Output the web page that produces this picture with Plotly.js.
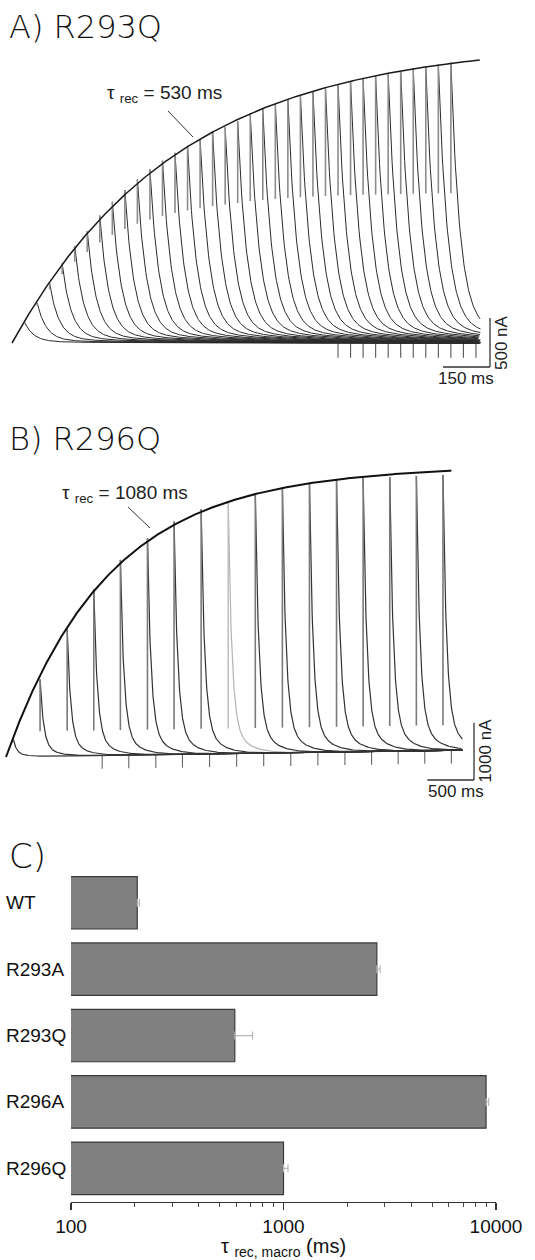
<!DOCTYPE html>
<html><head><meta charset="utf-8">
<script src="https://cdn.plot.ly/plotly-3.0.1.min.js"></script>
<style>html,body{margin:0;padding:0;background:#fff}#chart{width:535px;height:1260px}</style>
</head><body><div id="chart"></div>
<script>
// ---------------- DATA ----------------
// Panel A: R293Q recovery from inactivation (test-pulse times, peak currents)
const A_TEST_TIMES_MS = [40,80,120,160,200,240,280,320,360,400,440,480,520,560,600,640,680,720,760,800,840,880,920,960,1000,1040,1080,1120,1160,1200,1240,1280,1320,1360,1400];
const A_PEAKS_NA = [210,410,610,810,990,1140,1300,1440,1560,1670,1770,1860,1940,2010,2080,2150,2200,2260,2340,2390,2440,2490,2530,2570,2600,2640,2670,2700,2720,2750,2770,2800,2820,2840,2860];
const A_TAIL_TICKS_MS = [1040,1080,1120,1160,1200,1240,1280,1320,1360,1400,1440,1480];
const A_FIT_TAU_MS = 530, A_FIT_AMP_NA = 3070, A_SWEEP_END_MS = 1495;
const A_DECAY = {fastFrac:0.93, tauFast:29, tauSlow:255};
const A_TAU_LABEL = 'τ <sub>rec</sub> = 530 ms';
const A_SCALE = {ms:150, nA:500};

// Panel B: R296Q
const B_TEST_TIMES_MS = [75,365,655,940,1225,1515,1800,2090,2380,2670,2960,3250,3540,3825,4110,4395,4680];
const B_PEAKS_NA = [330,1345,2235,2900,3410,3785,4065,4275,4400,4535,4640,4705,4745,4775,4780,4795,4805];
const B_TAIL_TICKS_MS = [1030,1315,1605,1890,2180,2470,2760,3050,3340,3630,3915,4200,4485,4770];
const B_FIT_TAU_MS = 1080, B_FIT_AMP_NA = 4940, B_SWEEP_END_MS = 4890, B_DRIFT_NA = 120;
const B_DECAY = {fastFrac:0.85, tauFast:37, tauSlow:150};
const B_LIGHT_TRACE = 8;
const B_TAU_LABEL = 'τ <sub>rec</sub> = 1080 ms';
const B_SCALE = {ms:500, nA:1000};

// Panel C: macroscopic recovery time constants
const C_CONSTRUCTS = ['WT','R293A','R293Q','R296A','R296Q'];
const C_TAU_MS = [205,2750,590,8980,1000];
const C_SEM_MS = [5,100,125,260,50];
const C_TICKS = [100,1000,10000];
const C_MINOR = [200,300,400,500,600,700,800,900,2000,3000,4000,5000,6000,7000,8000,9000];

// ---------------- LAYOUT GEOMETRY (pixels) ----------------
const W=535,H=1260;
const px = x => x/W, py = y => 1 - y/H;
const GA = {t0px:12, msPerPx:3.19, basePx:343, naPerPx:10.2, top:50, bottom:385};
const GB = {t0px:6, msPerPx:10.71, basePx:757, naPerPx:17.45, top:455, bottom:810};
const FONT = '"Liberation Sans", Arial, sans-serif';
const TITLE_FONT = '"DejaVu Sans", "Liberation Sans", sans-serif';

function xr(g){return [(0-g.t0px)*g.msPerPx,(W-g.t0px)*g.msPerPx];}
function yr(g){return [(g.basePx-g.bottom)*g.naPerPx,(g.basePx-g.top)*g.naPerPx];}
function msAt(g,x){return (x-g.t0px)*g.msPerPx;}
function naAt(g,y){return (g.basePx-y)*g.naPerPx;}

function decaySeg(t0, peak, tEnd, d, base, X, Y){
  let dt=0;
  while(t0+dt<=tEnd){
    X.push(t0+dt);
    Y.push(base(t0+dt)+peak*(d.fastFrac*Math.exp(-dt/d.tauFast)+(1-d.fastFrac)*Math.exp(-dt/d.tauSlow)));
    dt += dt < 6*d.tauFast ? d.tauFast/14 : d.tauFast/3;
  }
  X.push(null); Y.push(null);
}

const traces=[];
// ----- Panel A -----
(function(){
  const base=()=>0;
  const dx=[],dy=[],sx=[],sy=[],kx=[],ky=[],ex=[],ey=[];
  A_TEST_TIMES_MS.forEach((t,i)=>{
    const p=A_PEAKS_NA[i];
    decaySeg(t,p,A_SWEEP_END_MS,A_DECAY,base,dx,dy);
    sx.push(t,t,null); sy.push(p, p-0.5*p*p/A_FIT_AMP_NA, null);
  });
  A_TAIL_TICKS_MS.forEach(t=>{kx.push(t,t,null); ky.push(0,-150,null);});
  for(let t=0;t<=1493;t+=4){ex.push(t); ey.push(A_FIT_AMP_NA*(1-Math.exp(-t/A_FIT_TAU_MS)));}
  traces.push({type:'scatter',mode:'lines',x:kx,y:ky,xaxis:'x',yaxis:'y',line:{color:'#555',width:1.1},hoverinfo:'skip'});
  traces.push({type:'scatter',mode:'lines',x:dx,y:dy,xaxis:'x',yaxis:'y',line:{color:'#2b2b2b',width:1},hoverinfo:'skip'});
  traces.push({type:'scatter',mode:'lines',x:sx,y:sy,xaxis:'x',yaxis:'y',line:{color:'#8c8c8c',width:1.6},hoverinfo:'skip'});
  traces.push({type:'scatter',mode:'lines',x:ex,y:ey,xaxis:'x',yaxis:'y',line:{color:'#1a1a1a',width:1.5},hoverinfo:'skip'});
})();
// ----- Panel B -----
(function(){
  const base=t=>B_DRIFT_NA*t/B_SWEEP_END_MS;
  const dx=[],dy=[],lx=[],ly=[],sx=[],sy=[],lsx=[],lsy=[],kx=[],ky=[],ex=[],ey=[];
  B_TEST_TIMES_MS.forEach((t,i)=>{
    const p=B_PEAKS_NA[i];
    const light = i===B_LIGHT_TRACE;
    decaySeg(t,p,B_SWEEP_END_MS,B_DECAY,base,light?lx:dx,light?ly:dy);
    const foot=Math.min(440,0.75*p);
    (light?lsx:sx).push(t,t,null); (light?lsy:sy).push(base(t)+p, base(t)+foot, null);
  });
  B_TAIL_TICKS_MS.forEach(t=>{kx.push(t,t,null); ky.push(base(t),base(t)-230,null);});
  for(let t=0;t<=4777;t+=10){ex.push(t); ey.push(base(t)+B_FIT_AMP_NA*(1-Math.exp(-t/B_FIT_TAU_MS)));}
  traces.push({type:'scatter',mode:'lines',x:kx,y:ky,xaxis:'x2',yaxis:'y2',line:{color:'#666',width:1.1},hoverinfo:'skip'});
  traces.push({type:'scatter',mode:'lines',x:lx,y:ly,xaxis:'x2',yaxis:'y2',line:{color:'#b4b4b4',width:1.2},hoverinfo:'skip'});
  traces.push({type:'scatter',mode:'lines',x:dx,y:dy,xaxis:'x2',yaxis:'y2',line:{color:'#333',width:1.2},hoverinfo:'skip'});
  traces.push({type:'scatter',mode:'lines',x:lsx,y:lsy,xaxis:'x2',yaxis:'y2',line:{color:'#c0c0c0',width:1.6},hoverinfo:'skip'});
  traces.push({type:'scatter',mode:'lines',x:sx,y:sy,xaxis:'x2',yaxis:'y2',line:{color:'#7a7a7a',width:1.6},hoverinfo:'skip'});
  traces.push({type:'scatter',mode:'lines',x:ex,y:ey,xaxis:'x2',yaxis:'y2',line:{color:'#111',width:2},hoverinfo:'skip'});
})();
// ----- Panel C -----
traces.push({type:'bar',orientation:'h',x:C_TAU_MS,y:C_CONSTRUCTS,xaxis:'x3',yaxis:'y3',
  marker:{color:'#808080',line:{color:'#3a3a3a',width:1.2}},
  error_x:{type:'data',array:C_SEM_MS,arrayminus:C_SEM_MS.map(()=>0),symmetric:false,color:'#b8b8b8',thickness:1.2,width:4},
  hoverinfo:'skip'});

const hidden={showline:false,showgrid:false,zeroline:false,showticklabels:false,ticks:'',fixedrange:true};
const sA={t0:msAt(GA,490), y0:naAt(GA,367)};
const sB={t0:msAt(GB,474), y0:naAt(GB,780)};

const shapes=[
  {type:'line',xref:'x',yref:'y',x0:sA.t0-A_SCALE.ms,x1:sA.t0,y0:sA.y0,y1:sA.y0,line:{color:'#333',width:1.3}},
  {type:'line',xref:'x',yref:'y',x0:sA.t0,x1:sA.t0,y0:sA.y0,y1:sA.y0+A_SCALE.nA,line:{color:'#333',width:1.3}},
  {type:'line',xref:'x2',yref:'y2',x0:sB.t0-B_SCALE.ms,x1:sB.t0,y0:sB.y0,y1:sB.y0,line:{color:'#333',width:1.3}},
  {type:'line',xref:'x2',yref:'y2',x0:sB.t0,x1:sB.t0,y0:sB.y0,y1:sB.y0+B_SCALE.nA,line:{color:'#333',width:1.3}},
  {type:'line',xref:'paper',yref:'paper',x0:px(168),y0:py(111),x1:px(193),y1:py(137),line:{color:'#333',width:1}},
  {type:'line',xref:'paper',yref:'paper',x0:px(128),y0:py(507),x1:px(150),y1:py(528),line:{color:'#333',width:1}}
];

const ann=[
  {text:'A) R293Q',xref:'paper',yref:'paper',x:px(7),y:py(27),xanchor:'left',yanchor:'middle',showarrow:false,font:{family:TITLE_FONT,size:32,color:'#111',weight:300}},
  {text:'B) R296Q',xref:'paper',yref:'paper',x:px(7),y:py(439),xanchor:'left',yanchor:'middle',showarrow:false,font:{family:TITLE_FONT,size:32,color:'#111',weight:300}},
  {text:'C)',xref:'paper',yref:'paper',x:px(7),y:py(856),xanchor:'left',yanchor:'middle',showarrow:false,font:{family:TITLE_FONT,size:34,color:'#111',weight:300}},
  {text:A_TAU_LABEL,xref:'paper',yref:'paper',x:px(105),y:py(94),xanchor:'left',yanchor:'middle',showarrow:false,font:{family:FONT,size:19,color:'#222'}},
  {text:B_TAU_LABEL,xref:'paper',yref:'paper',x:px(60),y:py(494),xanchor:'left',yanchor:'middle',showarrow:false,font:{family:FONT,size:19,color:'#222'}},
  {text:A_SCALE.ms+' ms',xref:'x',yref:'y',x:sA.t0-A_SCALE.ms/2,y:sA.y0,xanchor:'center',yanchor:'top',showarrow:false,font:{family:FONT,size:17,color:'#222'}},
  {text:A_SCALE.nA+' nA',xref:'x',yref:'y',x:sA.t0,y:sA.y0+A_SCALE.nA/2,xanchor:'left',yanchor:'middle',textangle:-90,showarrow:false,font:{family:FONT,size:17,color:'#222'}},
  {text:B_SCALE.ms+' ms',xref:'x2',yref:'y2',x:sB.t0-B_SCALE.ms/2+60,y:sB.y0,xanchor:'center',yanchor:'top',showarrow:false,font:{family:FONT,size:17,color:'#222'}},
  {text:B_SCALE.nA+' nA',xref:'x2',yref:'y2',x:sB.t0,y:sB.y0+B_SCALE.nA/2,xanchor:'left',yanchor:'middle',textangle:-90,showarrow:false,font:{family:FONT,size:17,color:'#222'}}
];
C_CONSTRUCTS.forEach(c=>ann.push({text:c,xref:'paper',yref:'y3',x:px(4),y:c,xanchor:'left',yanchor:'middle',showarrow:false,
  font:{family:FONT,size:19,color:'#111'}}));

const layout={
  width:W,height:H,margin:{l:0,r:0,t:0,b:0},paper_bgcolor:'#fff',plot_bgcolor:'rgba(0,0,0,0)',showlegend:false,
  bargap:0.21,
  xaxis:Object.assign({domain:[0,1],range:xr(GA),anchor:'y'},hidden),
  yaxis:Object.assign({domain:[py(GA.bottom),py(GA.top)],range:yr(GA),anchor:'x'},hidden),
  xaxis2:Object.assign({domain:[0,1],range:xr(GB),anchor:'y2'},hidden),
  yaxis2:Object.assign({domain:[py(GB.bottom),py(GB.top)],range:yr(GB),anchor:'x2'},hidden),
  xaxis3:{domain:[px(71),px(496)],anchor:'y3',type:'log',range:[2,4],showline:true,linecolor:'#333',linewidth:1.5,
    showgrid:false,zeroline:false,ticks:'outside',ticklen:7,tickwidth:1.3,tickcolor:'#333',
    tickmode:'array',tickvals:C_TICKS,ticktext:C_TICKS.map(String),tickfont:{family:FONT,size:19,color:'#111'},
    minor:{tickmode:'array',tickvals:C_MINOR,ticks:'outside',ticklen:4,tickwidth:1,tickcolor:'#444',showgrid:false},
    title:{text:'τ <sub>rec, macro</sub> (ms)',font:{family:FONT,size:20,color:'#111'},standoff:4},fixedrange:true},
  yaxis3:{domain:[py(1201.5),py(869.6)],anchor:'x3',type:'category',autorange:'reversed',showline:false,showgrid:false,
    zeroline:false,showticklabels:false,ticks:'',fixedrange:true},
  shapes:shapes,annotations:ann
};
Plotly.newPlot('chart',traces,layout,{staticPlot:true,displayModeBar:false});
</script></body></html>
